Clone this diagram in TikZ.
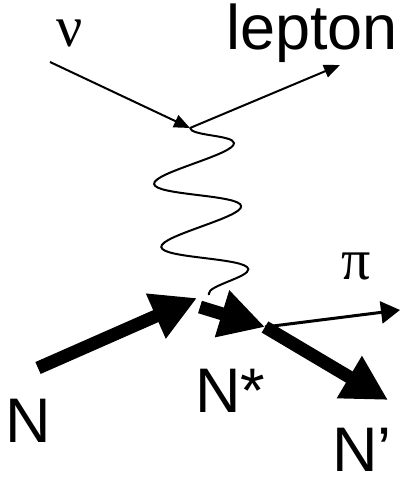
\documentclass[tikz,border=0pt]{standalone}
\usepackage{fontspec}
\setmainfont{Liberation Sans}
\newfontfamily\greekfont{Liberation Serif}
\usetikzlibrary{arrows.meta,decorations.pathmorphing}

\begin{document}
\begin{tikzpicture}[
x=1pt,y=1pt,
lbl/.style={inner sep=0pt,anchor=base west,text depth=0pt,font=\fontsize{63}{70}\selectfont},
greek/.style={inner sep=0pt,anchor=base,font=\greekfont\fontsize{58}{64}\selectfont},
thinarrow/.style={-{Triangle[length=16pt,width=13pt]},line width=2pt},
thickarrow/.style={-{Triangle[length=45pt,width=46pt]},line width=13pt},
pionarrow/.style={-{Triangle[length=19pt,width=22pt]},line width=3pt},
photon/.style={decorate,decoration={snake,segment length=63.5pt,amplitude=42pt},line width=2pt}
]
\useasboundingbox (0,0) rectangle (401,478);
% vertices and free ends
\coordinate (nuin) at (50,416);
\coordinate (vtop) at (190,350);
\coordinate (lepout) at (340,413);
\coordinate (vbot) at (209,183);
\coordinate (Nin) at (38,110);
\coordinate (Ntip) at (197,180);
\coordinate (Nsin) at (200,171);
\coordinate (vdec) at (265,151);
\coordinate (piout) at (400,168);
\coordinate (Npout) at (388,78);
% labels
\node[greek] (nu) at (70,431) {ν};
\node[lbl] (lepton) at (226,428) {lepton};
\node[greek] (pion) at (356,198) {π};
\node[lbl] (N) at (5,35) {N};
\node[lbl] (Nstar) at (195,65) {N*};
\node[lbl] (Nprime) at (332,6) {N’};
% lines
\draw[thinarrow] (nuin)--(vtop);
\draw[thinarrow] (vtop)--(lepout);
\draw[photon] (vtop)--(vbot);
\draw[thickarrow] (Nin)--(Ntip);
\draw[thickarrow] (Nsin)--(vdec);
\draw[pionarrow] (vdec)--(piout);
\draw[thickarrow] (vdec)--(Npout);
\end{tikzpicture}
\end{document}
